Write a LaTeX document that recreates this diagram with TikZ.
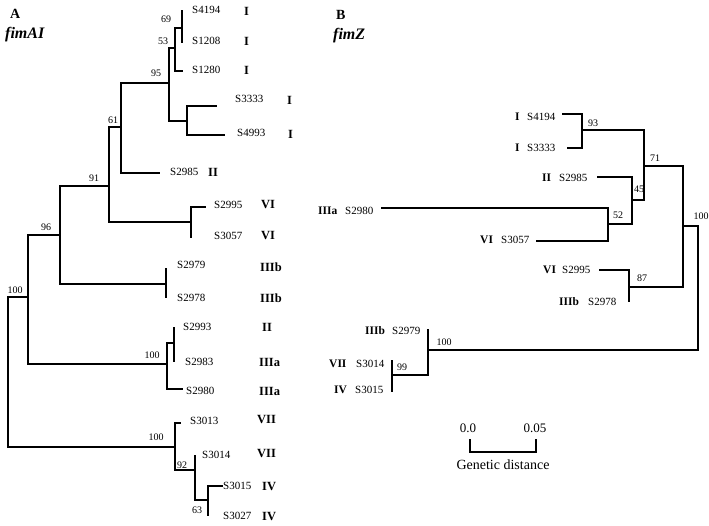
\documentclass[tikz,border=0pt]{standalone}
\usepackage{fontspec}
\setmainfont{Liberation Serif}
\begin{document}
\begin{tikzpicture}[x=1pt,y=-1pt,
  br/.style={line width=2.1pt, line join=miter},
  lab/.style={font=\fontsize{11}{13}\selectfont, anchor=west, inner sep=0pt},
  ser/.style={font=\bfseries\fontsize{12.5}{14}\selectfont, anchor=west, inner sep=0pt},
  serr/.style={font=\bfseries\fontsize{11.5}{13}\selectfont, anchor=west, inner sep=0pt},
  boot/.style={font=\fontsize{10}{11}\selectfont, inner sep=0pt},
  ttl/.style={font=\bfseries\fontsize{14}{16}\selectfont, anchor=west, inner sep=0pt},
  ttli/.style={font=\bfseries\itshape\fontsize{16}{18}\selectfont, anchor=west, inner sep=0pt},
  scl/.style={font=\fontsize{13}{15}\selectfont, inner sep=0pt}]
\useasboundingbox[fill=white] (0,0) rectangle (709,525);

% ---------- titles
\node[ttl] (tA) at (10,14) {A};
\node[ttli] (tfimA) at (5,35) {fimAI};
\node[ttl] (tB) at (336,15) {B};
\node[ttli] (tfimZ) at (333,36) {fimZ};

% ---------- left tree coordinates
\coordinate (Lroot) at (8,372);
\coordinate (L96) at (28,297);
\coordinate (L91) at (60,235);
\coordinate (L61) at (109,186);
\coordinate (L95) at (121,127);
\coordinate (L53) at (169,83);
\coordinate (L69) at (175,48);
\coordinate (L69b) at (182,28);
\coordinate (lS4194) at (182,10);
\coordinate (lS1208) at (182,43);
\coordinate (lS1280) at (183,71);
\coordinate (L33) at (187,121);
\coordinate (lS3333) at (217,106);
\coordinate (lS4993) at (225,135);
\coordinate (lS2985) at (160,173);
\coordinate (LVI) at (191,222);
\coordinate (lS2995) at (206,207);
\coordinate (lS3057) at (191,238);
\coordinate (LIIIb) at (166,284);
\coordinate (lS2979) at (166,268);
\coordinate (lS2978) at (166,298);
\coordinate (L100a) at (167,364);
\coordinate (L100s) at (174,343);
\coordinate (lS2993) at (174,327);
\coordinate (lS2983) at (174,362);
\coordinate (lS2980) at (183,389);
\coordinate (L100b) at (175,447);
\coordinate (lS3013) at (181,423);
\coordinate (L92) at (195,470);
\coordinate (lS3014) at (195,455);
\coordinate (L63) at (208,500);
\coordinate (lS3015) at (223,486);
\coordinate (lS3027) at (208,516);

\draw[br] (Lroot) |- (L96); \draw[br] (Lroot) |- (L100b);
\draw[br] (L96) |- (L91); \draw[br] (L96) |- (L100a);
\draw[br] (L91) |- (L61); \draw[br] (L91) |- (LIIIb);
\draw[br] (L61) |- (L95); \draw[br] (L61) |- (LVI);
\draw[br] (L95) |- (L53); \draw[br] (L95) |- (lS2985);
\draw[br] (L53) |- (L69); \draw[br] (L53) |- (L33);
\draw[br] (L69) |- (L69b); \draw[br] (L69) |- (lS1280);
\draw[br] (L69b) |- (lS4194); \draw[br] (L69b) |- (lS1208);
\draw[br] (L33) |- (lS3333); \draw[br] (L33) |- (lS4993);
\draw[br] (LVI) |- (lS2995); \draw[br] (LVI) |- (lS3057);
\draw[br] (LIIIb) |- (lS2979); \draw[br] (LIIIb) |- (lS2978);
\draw[br] (L100a) |- (L100s); \draw[br] (L100a) |- (lS2980);
\draw[br] (L100s) |- (lS2993); \draw[br] (L100s) |- (lS2983);
\draw[br] (L100b) |- (lS3013); \draw[br] (L100b) |- (L92);
\draw[br] (L92) |- (lS3014); \draw[br] (L92) |- (L63);
\draw[br] (L63) |- (lS3015); \draw[br] (L63) |- (lS3027);

% left labels
\node[lab] (tl1) at (192,10) {S4194};   \node[ser] (sl1) at (244,11) {I};
\node[lab] (tl2) at (192,41) {S1208};   \node[ser] (sl2) at (244,41) {I};
\node[lab] (tl3) at (192,70) {S1280};   \node[ser] (sl3) at (244,70) {I};
\node[lab] (tl4) at (235,99) {S3333};   \node[ser] (sl4) at (287,100) {I};
\node[lab] (tl5) at (237,133) {S4993};  \node[ser] (sl5) at (288,134) {I};
\node[lab] (tl6) at (170,172) {S2985};  \node[ser] (sl6) at (208,172) {II};
\node[lab] (tl7) at (214,205) {S2995};  \node[ser] (sl7) at (261,204) {VI};
\node[lab] (tl8) at (214,236) {S3057};  \node[ser] (sl8) at (261,235) {VI};
\node[lab] (tl9) at (177,265) {S2979};  \node[ser] (sl9) at (260,267) {IIIb};
\node[lab] (tl10) at (177,298) {S2978}; \node[ser] (sl10) at (260,298) {IIIb};
\node[lab] (tl11) at (183,327) {S2993}; \node[ser] (sl11) at (262,327) {II};
\node[lab] (tl12) at (185,362) {S2983}; \node[ser] (sl12) at (259,362) {IIIa};
\node[lab] (tl13) at (186,391) {S2980}; \node[ser] (sl13) at (259,391) {IIIa};
\node[lab] (tl14) at (190,421) {S3013}; \node[ser] (sl14) at (257,419) {VII};
\node[lab] (tl15) at (202,455) {S3014}; \node[ser] (sl15) at (257,453) {VII};
\node[lab] (tl16) at (223,486) {S3015}; \node[ser] (sl16) at (262,486) {IV};
\node[lab] (tl17) at (223,516) {S3027}; \node[ser] (sl17) at (262,516) {IV};

% left bootstrap
\node[boot] (bl1) at (166,19) {69};
\node[boot] (bl2) at (163,41) {53};
\node[boot] (bl3) at (156,73) {95};
\node[boot] (bl4) at (113,120) {61};
\node[boot] (bl5) at (94,178) {91};
\node[boot] (bl6) at (46,227) {96};
\node[boot] (bl7) at (15,290) {100};
\node[boot] (bl8) at (152,355) {100};
\node[boot] (bl9) at (156,437) {100};
\node[boot] (bl10) at (182,465) {92};
\node[boot] (bl11) at (197,510) {63};

% ---------- right tree coordinates
\coordinate (Rroot) at (698,288);
\coordinate (RA) at (683,226);
\coordinate (R71) at (644,166);
\coordinate (R93) at (582,130);
\coordinate (rS4194) at (562,114);
\coordinate (rS3333) at (567,148);
\coordinate (R45) at (632,200);
\coordinate (rS2985) at (597,177);
\coordinate (R52) at (608,224);
\coordinate (rS2980) at (381,208);
\coordinate (rS3057) at (536,241);
\coordinate (R87) at (629,287);
\coordinate (rS2995) at (599,270);
\coordinate (rS2978) at (629,302);
\coordinate (RB) at (428,350);
\coordinate (rS2979) at (428,329);
\coordinate (R99) at (392,375);
\coordinate (rS3014) at (392,360);
\coordinate (rS3015) at (392,392);

\draw[br] (Rroot) |- (RA); \draw[br] (Rroot) |- (RB);
\draw[br] (RA) |- (R71); \draw[br] (RA) |- (R87);
\draw[br] (R71) |- (R93); \draw[br] (R71) |- (R45);
\draw[br] (R93) |- (rS4194); \draw[br] (R93) |- (rS3333);
\draw[br] (R45) |- (rS2985); \draw[br] (R45) |- (R52);
\draw[br] (R52) |- (rS2980); \draw[br] (R52) |- (rS3057);
\draw[br] (R87) |- (rS2995); \draw[br] (R87) |- (rS2978);
\draw[br] (RB) |- (rS2979); \draw[br] (RB) |- (R99);
\draw[br] (R99) |- (rS3014); \draw[br] (R99) |- (rS3015);

% right labels
\node[serr] (sr1) at (515,117) {I};    \node[lab] (tr1) at (527,117) {S4194};
\node[serr] (sr2) at (515,148) {I};    \node[lab] (tr2) at (527,148) {S3333};
\node[serr] (sr3) at (542,178) {II};   \node[lab] (tr3) at (559,178) {S2985};
\node[serr] (sr4) at (318,211) {IIIa}; \node[lab] (tr4) at (345,211) {S2980};
\node[serr] (sr5) at (480,240) {VI};   \node[lab] (tr5) at (501,240) {S3057};
\node[serr] (sr6) at (543,270) {VI};   \node[lab] (tr6) at (562,270) {S2995};
\node[serr] (sr7) at (559,302) {IIIb}; \node[lab] (tr7) at (588,302) {S2978};
\node[serr] (sr8) at (365,331) {IIIb}; \node[lab] (tr8) at (392,331) {S2979};
\node[serr] (sr9) at (329,364) {VII};  \node[lab] (tr9) at (356,364) {S3014};
\node[serr] (sr10) at (334,390) {IV};  \node[lab] (tr10) at (355,390) {S3015};

% right bootstrap
\node[boot] (br1) at (593,123) {93};
\node[boot] (br2) at (655,158) {71};
\node[boot] (br3) at (639,189) {45};
\node[boot] (br4) at (618,215) {52};
\node[boot] (br5) at (642,278) {87};
\node[boot] (br6) at (701,216) {100};
\node[boot] (br7) at (444,342) {100};
\node[boot] (br8) at (402,367) {99};

% ---------- scale bar
\coordinate (sbt0) at (470,439);
\coordinate (sb0) at (470,452);
\coordinate (sb1) at (536,452);
\coordinate (sbt1) at (536,439);
\draw[line width=1.8pt] (sbt0) -- (sb0) -- (sb1) -- (sbt1);
\node[scl] (s0) at (468,428) {0.0};
\node[scl] (s1) at (535,428) {0.05};
\node[scl,font=\fontsize{14}{16}\selectfont] (sg) at (503,465) {Genetic distance};
\end{tikzpicture}
\end{document}
